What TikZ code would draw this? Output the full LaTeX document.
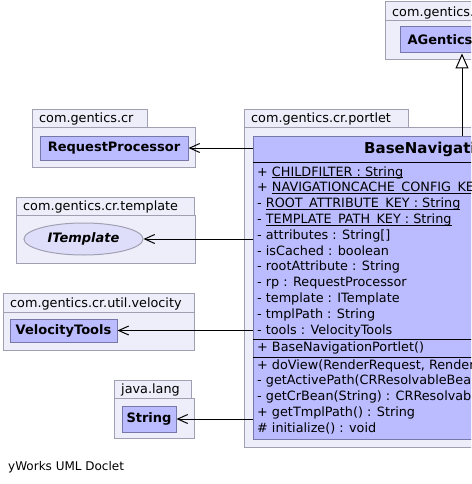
\documentclass[tikz,border=0pt]{standalone}
\usepackage{fontspec}
\setmainfont{DejaVu Sans}
\usetikzlibrary{calc}
\usetikzlibrary{arrows.meta}
\usetikzlibrary{shapes.geometric}

\definecolor{pkgfill}{RGB}{238,238,250}
\definecolor{pkgline}{RGB}{160,160,178}
\definecolor{clsfill}{RGB}{187,187,255}
\definecolor{clsline}{RGB}{120,120,168}
\definecolor{ifcfill}{RGB}{222,222,250}

\newcommand{\statul}[1]{\underline{\smash{#1}}}

\tikzset{
 pkg/.style={draw=pkgline, fill=pkgfill, line width=1},
 pkglabel/.style={inner sep=0, font=\fontsize{12.8}{15}\selectfont},
 cls/.style={draw=clsline, fill=clsfill, line width=1, inner sep=0, font=\fontsize{13}{15}\selectfont\bfseries},
 member/.style={anchor=base west, inner sep=0, font=\fontsize{12.8}{15}\selectfont},
 dep/.style={black, line width=1, -{Straight Barb[length=10,width=9]}},
 gen/.style={black, line width=1, -{Triangle[length=15,width=13,fill=white]}}
}

\begin{document}
\begin{tikzpicture}[x=1pt,y=-1pt]
\useasboundingbox (0,0) rectangle (471,484);
\clip (0,0) rectangle (471,484);
\fill[white] (0,0) rectangle (471,484);
% packages: body, then tab with its name
\foreach \xa/\ya/\xt/\yt/\xb/\yb/\name in {385/2/520/21/540/60/com.gentics.,
 244/110/408/127/720/447/com.gentics.cr.portlet, 32/110/147/127/195/167/com.gentics.cr,
 16/197/194/215/195/263/com.gentics.cr.template, 3/293/194/312/194/350/com.gentics.cr.util.velocity,
 114/380/191/398/194/438/java.lang} {
 \draw[pkg] (\xa,\yt) rectangle (\xb,\yb);
 \draw[pkg] (\xa,\ya) rectangle (\xt,\yt);
 \node[pkglabel, anchor=base west] at (\xa+7,\yt-4.5) {\name};
}
% classes
\node[cls, minimum width=80, minimum height=26] (ag) at (440,40) {AGentics};
\node[cls, minimum width=148, minimum height=24] (rp) at (114,148) {RequestProcessor};
\node[cls, ellipse, fill=ifcfill, draw=pkgline, minimum width=119, minimum height=32,
 font=\fontsize{13}{15}\selectfont\bfseries\itshape] (tpl) at (83.5,239) {ITemplate};
\node[cls, minimum width=107, minimum height=23] (vt) at (63.5,330.5) {VelocityTools};
\node[cls, minimum width=54, minimum height=26] (str) at (149,419) {String};
\node[cls, minimum width=447, minimum height=303, anchor=north west] (base) at (253,136) {};
\node[anchor=west, inner sep=0, font=\fontsize{15}{18}\selectfont\bfseries] (title) at (364,149) {BaseNavigationPortlet};
\foreach \y in {162,339,357} \draw[black, line width=1] (253,\y) -- (720,\y);
% members
\foreach \m [count=\i] in {{+ \statul{CHILDFILTER : String}},
 {+ \statul{NAVIGATIONCACHE\_CONFIG\_KEY : String}},
 {- \statul{ROOT\_ATTRIBUTE\_KEY : String}},
 {- \statul{TEMPLATE\_PATH\_KEY : String}},
 {- attributes : String[]}, {- isCached : boolean}, {- rootAttribute : String},
 {- rp : RequestProcessor}, {- template : ITemplate}, {- tmplPath : String},
 {- tools : VelocityTools}}
 \node[member] at (257,{176+15.8*(\i-1)}) {\m};
\node[member] at (257,351) {+ BaseNavigationPortlet()};
\foreach \m [count=\i] in {{+ doView(RenderRequest, RenderResponse) : void},
 {- getActivePath(CRResolvableBean) : String},
 {- getCrBean(String) : CRResolvableBean},
 {+ getTmplPath() : String}, {\# initialize() : void}}
 \node[member] at (257,{369+15.75*(\i-1)}) {\m};
% connectors
\draw[dep] (base.west |- rp) -- (rp);
\draw[dep] (base.west |- tpl) -- (tpl);
\draw[dep] (base.west |- vt) -- (vt);
\draw[dep] (base.west |- str) -- (str);
\coordinate (gx) at (462,0);
\draw[gen] (gx |- base.north) -- (gx |- ag.south);
\node[member, font=\fontsize{12}{14}\selectfont] (doclet) at (8,470) {yWorks UML Doclet};
\end{tikzpicture}
\end{document}
